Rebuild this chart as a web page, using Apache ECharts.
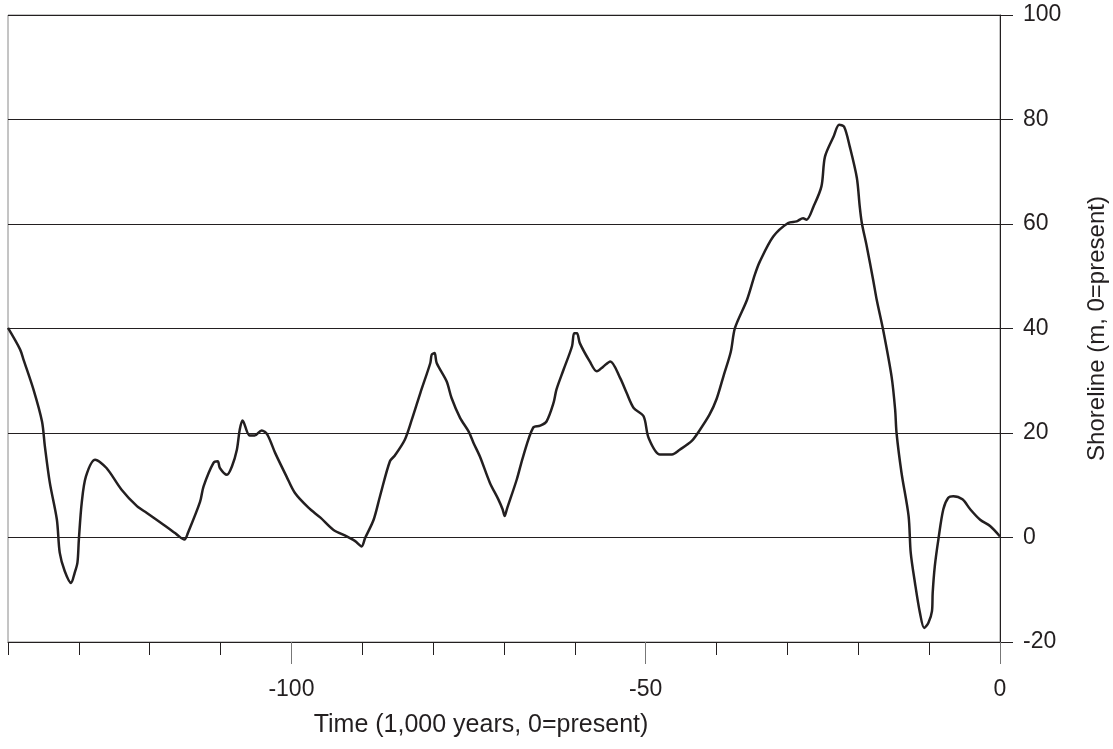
<!DOCTYPE html>
<html>
<head>
<meta charset="utf-8">
<script src="https://cdn.jsdelivr.net/npm/echarts@6/dist/echarts.min.js"></script>
<style>
  html, body { margin: 0; padding: 0; background: #fff; }
  #main { width: 1113px; height: 749px; }
</style>
</head>
<body>
<div id="main"></div>
<script>
// time in 1,000 years (0 = present)
const years = [
  -140, -138.3, -137.8, -136.4, -135.2, -134.8, -134.1, -133.1, -132.7, -132,
  -131.1, -130.6, -130.2, -130, -129.6, -129, -127.7, -126.1, -124, -121.8,
  -120.4, -118.1, -116.2, -115.1, -114.6, -112.9, -112.4, -111, -110.4, -110.1,
  -109.1, -108.4, -107.7, -107.3, -106.9, -105.9, -105.2, -104.2, -103.4, -102.3,
  -100.7, -99.5, -97.6, -95.9, -94.1, -92.2, -91, -90.1, -89.6, -88.4,
  -87.5, -86.1, -85.4, -84, -83, -81.8, -80.4, -80.2, -79.8, -79.5,
  -78.1, -77.4, -76.2, -75, -74.3, -73.4, -72, -70.8, -70.2, -69.9,
  -69.6, -68.2, -67.3, -65.9, -64.9, -64, -63, -62.6, -61.6, -60.4,
  -60.1, -59.7, -59.3, -57.9, -56.9, -56, -55, -53.6, -52.7, -51.7,
  -50.3, -49.6, -48, -46.3, -45.2, -43.5, -42.5, -41, -40, -39,
  -38, -37.4, -35.7, -34.6, -33.9, -32, -29.9, -28.7, -27.8, -27.3,
  -26.3, -25.2, -24.7, -23.5, -22.7, -22, -21.2, -20.2, -19.8, -19.5,
  -18.8, -17.9, -17.4, -16.5, -15.3, -14.8, -14.6, -13.9, -12.9, -12.6,
  -12, -11.3, -10.7, -10.1, -9.6, -9.5, -9.2, -8.7, -8, -7.3,
  -6.6, -5.3, -4.2, -2.8, -1.4, 0
];
// shoreline in m (0 = present)
const shoreline = [
  40.1, 36, 34, 28.3, 22.2, 17.5, 10.5, 3.4, -2.9, -6.4,
  -8.7, -6.8, -4.8, -0.4, 6.6, 11.7, 14.9, 13.3, 9.2, 6,
  4.7, 2.5, 0.6, -0.4, 0.9, 6.8, 9.8, 14.3, 14.6, 13.3,
  12, 13.6, 16.8, 20.6, 22.4, 19.5, 19.5, 20.5, 19.7, 16.2,
  11.7, 8.5, 5.7, 3.8, 1.5, 0.2, -0.7, -1.7, -0.1, 3.4,
  7.9, 14.6, 15.7, 18.7, 22.6, 27.7, 33.4, 35, 35.3, 33.4,
  29.9, 26.7, 22.9, 20.3, 18.1, 15.5, 10.5, 7.3, 5.4, 4.1,
  5.4, 11.1, 15.5, 21, 21.4, 22.2, 25.8, 28.3, 32.1, 36.6,
  39.1, 39.1, 37.2, 33.7, 31.8, 32.7, 33.7, 30.5, 27.7, 24.8,
  23.2, 19.1, 15.9, 15.9, 16.8, 18.5, 20.3, 23.5, 26.5, 31,
  35.5, 40.1, 45.5, 50.3, 52.8, 57.6, 60.2, 60.5, 61.1, 60.8,
  63.4, 67.2, 72.9, 76.7, 79, 78.6, 74.8, 68.8, 63.4, 60.2,
  55.7, 49.3, 45.5, 39.8, 30.8, 24.5, 20, 12.4, 4.1, -2.9,
  -8.7, -14.4, -17.3, -16.3, -14.1, -10.6, -5.5, -0.4, 5.4, 7.6,
  7.9, 7.3, 5.4, 3.4, 2.2, 0.2
];
const xLabels = [-100, -50, 0];
const yTicks = [-20, 0, 20, 40, 60, 80, 100];

const ink = '#231f20';
const font = "'Liberation Sans', Arial, sans-serif";

const chart = echarts.init(document.getElementById('main'));

chart.setOption({
  animation: false,
  backgroundColor: '#fff',
  textStyle: { fontFamily: font, color: ink },
  grid: {
    left: 8, right: 113, top: 15, bottom: 107,
    outerBoundsMode: 'none',
    show: true, borderColor: '#8a8a8a', borderWidth: 1
  },
  xAxis: [
    {
      type: 'value',
      min: -140, max: 0, interval: 10,
      name: 'Time (1,000 years, 0=present)',
      nameLocation: 'middle',
      nameGap: 71,
      nameTextStyle: { fontSize: 25, color: ink, fontFamily: font, padding: [0, 46, 0, 0] },
      axisLine: { show: true, onZero: false, lineStyle: { color: ink, width: 1 } },
      axisTick: { show: true, length: 13, lineStyle: { color: ink, width: 1 } },
      axisLabel: {
        margin: 36, fontSize: 23, color: ink, fontFamily: font,
        formatter: v => (xLabels.indexOf(v) >= 0 ? String(v) : '')
      },
      splitLine: { show: false }
    },
    {
      type: 'value',
      min: -140, max: 0,
      position: 'bottom',
      axisLine: { show: false, onZero: false },
      axisTick: { show: true, length: 22, customValues: xLabels, lineStyle: { color: '#777', width: 1 } },
      axisLabel: { show: false },
      splitLine: { show: false }
    }
  ],
  yAxis: {
    type: 'value',
    position: 'right',
    min: -20, max: 100, interval: 20,
    name: 'Shoreline (m, 0=present)',
    nameLocation: 'middle',
    nameGap: 85,
    nameRotate: 90,
    nameTextStyle: { fontSize: 24, color: ink, fontFamily: font },
    axisLine: { show: true, lineStyle: { color: ink, width: 1 } },
    axisTick: { show: true, length: 13, lineStyle: { color: ink, width: 1 } },
    axisLabel: {
      margin: 23, fontSize: 23, color: ink, fontFamily: font,
      formatter: v => (yTicks.indexOf(v) >= 0 ? String(v) : '')
    },
    splitLine: { show: true, lineStyle: { color: ink, width: 1 } }
  },
  series: [
    {
      type: 'line',
      xAxisIndex: 0,
      data: years.map((x, i) => [x, shoreline[i]]),
      symbol: 'none',
      smooth: 0.3,
      lineStyle: { color: ink, width: 2.5 }
    }
  ]
});
</script>
</body>
</html>
